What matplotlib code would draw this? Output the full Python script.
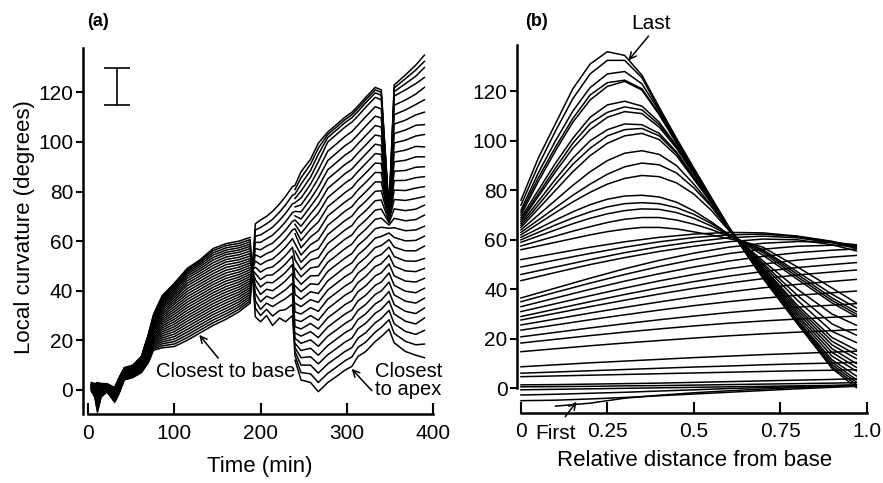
import matplotlib
matplotlib.use("agg")
import matplotlib.pyplot as plt

nan = float("nan")

# (a) local curvature against time, one trace per position (30 positions)
# rows are time points, columns are positions; before the switch column 0 is the base
TIME_GROWTH = [4, 8, 11, 15, 22, 31, 36, 42, 52, 62, 70, 76]
CURV_GROWTH = [
    [-0.5, -0.3, -0.2, 0.0, 0.1, 0.3, 0.4, 0.5, 0.6, 0.7,
     0.8, 0.9, 1.0, 1.1, 1.2, 1.3, 1.4, 1.5, 1.6, 1.7,
     1.8, 1.9, 2.0, 2.1, 2.2, 2.3, 2.4, 2.6, 2.8, 3.0],
    [-3.0, -2.7, -2.4, -2.1, -1.8, -1.5, -1.2, -1.0, -0.8, -0.6,
     -0.4, -0.2, 0.0, 0.2, 0.4, 0.6, 0.8, 1.0, 1.1, 1.2,
     1.3, 1.4, 1.5, 1.6, 1.7, 1.8, 1.9, 2.0, 2.2, 2.5],
    [-9.0, -8.5, -8.0, -7.5, -7.0, -6.5, -6.0, -5.5, -5.0, -4.5,
     -4.0, -3.5, -3.0, -2.5, -2.0, -1.5, -1.0, -0.5, 0.0, 0.4,
     0.8, 1.2, 1.5, 1.8, 2.0, 2.2, 2.4, 2.6, 2.8, 3.0],
    [-3.0, -2.7, -2.4, -2.1, -1.8, -1.5, -1.2, -0.9, -0.6, -0.3,
     0.0, 0.2, 0.4, 0.6, 0.8, 1.0, 1.1, 1.2, 1.3, 1.4,
     1.5, 1.6, 1.7, 1.8, 1.9, 2.0, 2.1, 2.2, 2.4, 2.6],
    [-0.8, -0.6, -0.4, -0.2, 0.0, 0.1, 0.2, 0.3, 0.4, 0.5,
     0.6, 0.7, 0.8, 0.9, 1.0, 1.1, 1.2, 1.3, 1.4, 1.5,
     1.6, 1.7, 1.8, 1.9, 2.0, 2.1, 2.2, 2.3, 2.4, 2.5],
    [-5.0, -4.7, -4.4, -4.1, -3.8, -3.5, -3.2, -2.9, -2.6, -2.3,
     -2.0, -1.8, -1.6, -1.4, -1.2, -1.0, -0.8, -0.6, -0.4, -0.2,
     0.0, 0.1, 0.2, 0.3, 0.4, 0.5, 0.6, 0.7, 0.8, 1.0],
    [-1.5, -1.2, -0.9, -0.6, -0.3, 0.0, 0.2, 0.4, 0.6, 0.8,
     1.0, 1.2, 1.4, 1.6, 1.8, 2.0, 2.2, 2.4, 2.6, 2.8,
     3.0, 3.2, 3.4, 3.6, 3.8, 4.0, 4.2, 4.4, 4.7, 5.0],
    [4.0, 4.2, 4.4, 4.6, 4.8, 5.0, 5.2, 5.4, 5.6, 5.8,
     6.0, 6.2, 6.4, 6.6, 6.8, 7.0, 7.1, 7.2, 7.3, 7.4,
     7.5, 7.6, 7.7, 7.8, 7.9, 8.0, 8.2, 8.4, 8.7, 9.0],
    [5.0, 5.2, 5.4, 5.6, 5.8, 6.0, 6.2, 6.4, 6.6, 6.8,
     7.0, 7.2, 7.4, 7.6, 7.8, 8.0, 8.2, 8.4, 8.6, 8.8,
     9.0, 9.1, 9.2, 9.3, 9.4, 9.5, 9.6, 9.7, 9.8, 10.0],
    [7.0, 7.3, 7.6, 7.9, 8.2, 8.5, 8.8, 9.1, 9.4, 9.7,
     10.0, 10.3, 10.6, 10.9, 11.2, 11.5, 11.7, 11.9, 12.1, 12.3,
     12.5, 12.6, 12.7, 12.8, 12.9, 13.0, 13.1, 13.2, 13.4, 13.6],
    [11.0, 11.5, 12.0, 12.5, 13.0, 13.5, 14.0, 14.5, 15.0, 15.5,
     16.0, 16.5, 17.0, 17.5, 18.0, 18.4, 18.8, 19.2, 19.6, 20.0,
     20.3, 20.6, 20.9, 21.2, 21.4, 21.6, 21.8, 22.0, 22.2, 22.5],
    [16.0, 16.6, 17.2, 17.8, 18.4, 19.0, 19.6, 20.2, 20.8, 21.4,
     22.0, 22.6, 23.2, 23.8, 24.4, 25.0, 25.5, 26.0, 26.5, 27.0,
     27.4, 27.8, 28.2, 28.5, 28.8, 29.1, 29.4, 29.7, 30.0, 30.5],
]

TIME_FAN = [86, 100, 115, 130, 145, 160, 175, 188]
CURV_FAN = [
    [17.0, 17.8, 18.6, 19.4, 20.2, 21.0, 21.8, 22.6, 23.4, 24.2,
     25.0, 25.8, 26.6, 27.4, 28.2, 29.0, 29.8, 30.6, 31.4, 32.2,
     33.0, 33.7, 34.4, 35.0, 35.6, 36.1, 36.6, 37.1, 37.6, 38.0],
    [17.5, 18.5, 19.5, 20.5, 21.5, 22.5, 23.5, 24.5, 25.5, 26.5,
     27.5, 28.5, 29.5, 30.5, 31.5, 32.5, 33.5, 34.5, 35.4, 36.3,
     37.2, 38.0, 38.8, 39.6, 40.3, 41.0, 41.6, 42.1, 42.6, 43.0],
    [20.0, 21.1, 22.2, 23.3, 24.4, 25.5, 26.6, 27.7, 28.8, 29.9,
     31.0, 32.1, 33.2, 34.3, 35.4, 36.5, 37.6, 38.7, 39.8, 40.9,
     42.0, 43.0, 44.0, 45.0, 45.9, 46.7, 47.4, 48.0, 48.5, 49.0],
    [23.0, 24.1, 25.2, 26.3, 27.4, 28.5, 29.6, 30.7, 31.8, 32.9,
     34.0, 35.1, 36.2, 37.3, 38.4, 39.5, 40.6, 41.7, 42.8, 43.9,
     45.0, 46.0, 47.0, 48.0, 48.9, 49.8, 50.6, 51.3, 52.0, 52.5],
    [26.0, 27.1, 28.2, 29.3, 30.4, 31.5, 32.6, 33.7, 34.8, 35.9,
     37.0, 38.1, 39.2, 40.3, 41.4, 42.5, 43.6, 44.7, 45.8, 46.9,
     48.0, 49.1, 50.2, 51.3, 52.4, 53.4, 54.4, 55.3, 56.2, 57.0],
    [28.5, 29.6, 30.7, 31.8, 32.9, 34.0, 35.1, 36.2, 37.3, 38.4,
     39.5, 40.6, 41.7, 42.8, 43.9, 45.0, 46.1, 47.2, 48.3, 49.4,
     50.5, 51.6, 52.6, 53.6, 54.6, 55.5, 56.4, 57.3, 58.2, 59.0],
    [31.5, 32.5, 33.5, 34.5, 35.5, 36.5, 37.5, 38.5, 39.5, 40.5,
     41.5, 42.5, 43.5, 44.5, 45.5, 46.5, 47.5, 48.5, 49.5, 50.5,
     51.5, 52.5, 53.5, 54.5, 55.5, 56.4, 57.3, 58.2, 59.1, 60.0],
    [35.0, 35.9, 36.8, 37.7, 38.6, 39.5, 40.4, 41.3, 42.2, 43.1,
     44.0, 44.9, 45.8, 46.7, 47.6, 48.5, 49.4, 50.3, 51.2, 52.1,
     53.0, 54.0, 55.0, 56.0, 57.0, 57.9, 58.8, 59.7, 60.6, 61.5],
]

# after the switch the order is reversed and only every other trace is measured
TIME_SWITCH = [194, 200, 207, 214, 222, 229, 237]
CURV_SWITCH = [
    [67.0, nan, 64.5, nan, 62.0, nan, 59.5, nan, 57.0, nan,
     54.5, nan, 52.0, nan, 49.5, nan, 47.0, nan, 44.5, nan,
     42.0, nan, 39.0, nan, 36.0, nan, 33.0, nan, 29.5, nan],
    [68.5, nan, 65.5, nan, 62.5, nan, 59.5, nan, 56.5, nan,
     53.5, nan, 50.5, nan, 47.5, nan, 44.5, nan, 41.5, nan,
     38.5, nan, 35.5, nan, 32.5, nan, 30.0, nan, 27.5, nan],
    [70.0, nan, 67.0, nan, 64.0, nan, 61.0, nan, 58.0, nan,
     55.0, nan, 52.0, nan, 49.0, nan, 46.2, nan, 43.4, nan,
     40.6, nan, 37.8, nan, 35.0, nan, 32.5, nan, 30.0, nan],
    [72.0, nan, 68.8, nan, 65.6, nan, 62.4, nan, 59.2, nan,
     56.0, nan, 52.8, nan, 49.6, nan, 46.4, nan, 43.2, nan,
     40.0, nan, 36.8, nan, 33.6, nan, 29.8, nan, 26.0, nan],
    [75.0, nan, 71.7, nan, 68.4, nan, 65.1, nan, 61.8, nan,
     58.5, nan, 55.2, nan, 51.9, nan, 48.6, nan, 45.3, nan,
     42.0, nan, 38.7, nan, 35.4, nan, 32.0, nan, 29.0, nan],
    [78.0, nan, 74.6, nan, 71.2, nan, 67.8, nan, 64.4, nan,
     61.0, nan, 57.6, nan, 54.2, nan, 50.8, nan, 47.4, nan,
     44.0, nan, 40.4, nan, 36.8, nan, 32.4, nan, 27.5, nan],
    [82.0, nan, 78.5, nan, 75.0, nan, 71.5, nan, 68.0, nan,
     64.5, nan, 61.0, nan, 57.5, nan, 54.0, nan, 50.5, nan,
     47.0, nan, 43.0, nan, 39.0, nan, 34.5, nan, 30.0, nan],
]

TIME_LATE = [240, 247, 258, 267, 278, 288, 298, 306, 313, 322,
             333, 340, 349, 355, 368, 380, 390]
CURV_LATE = [
    [82.5, 80.8, 79.0, 77.2, 75.5, 73.8, 72.0, 70.2, 68.5, 66.8,
     65.0, 63.0, 59.0, 56.0, 52.5, 49.0, 45.5, 42.0, 38.5, 35.0,
     31.5, 28.3, 25.5, 23.0, 20.8, 18.8, 17.0, 15.4, 13.8, 12.0],
    [88.0, 85.6, 83.0, 80.2, 77.4, 74.6, 71.8, 68.9, 66.0, 63.1,
     60.2, 57.3, 54.4, 51.5, 48.6, 45.6, 42.6, 39.6, 36.6, 33.6,
     30.6, 27.6, 24.6, 21.7, 18.8, 15.9, 13.0, 10.0, 7.0, 4.0],
    [93.0, 91.0, 88.5, 85.8, 83.0, 80.0, 77.0, 74.0, 71.0, 67.9,
     64.8, 61.7, 58.6, 55.5, 52.4, 49.2, 46.0, 42.8, 39.6, 36.4,
     33.2, 30.0, 26.8, 23.5, 20.2, 16.8, 13.4, 10.0, 6.5, 3.0],
    [99.5, 97.5, 95.0, 92.0, 88.7, 85.3, 81.8, 78.3, 74.8, 71.3,
     67.7, 64.1, 60.5, 56.9, 53.3, 49.7, 46.1, 42.5, 38.9, 35.3,
     31.7, 28.1, 24.6, 21.1, 17.6, 14.0, 10.5, 6.8, 3.0, -0.7],
    [104.0, 103.0, 101.8, 100.0, 96.3, 92.5, 88.8, 85.1, 81.3, 77.6,
     73.9, 70.2, 66.4, 62.7, 59.0, 55.2, 51.5, 47.8, 44.0, 40.3,
     36.6, 32.8, 29.1, 25.4, 21.7, 17.9, 14.2, 10.5, 6.7, 3.0],
    [107.0, 106.0, 104.8, 103.0, 99.2, 95.5, 91.7, 88.0, 84.2, 80.5,
     76.7, 73.0, 69.2, 65.5, 61.7, 58.0, 54.2, 50.5, 46.7, 43.0,
     39.2, 35.5, 31.7, 28.0, 24.2, 20.5, 16.7, 13.0, 9.2, 5.4],
    [110.0, 109.0, 107.8, 106.0, 102.2, 98.5, 94.7, 90.9, 87.2, 83.4,
     79.6, 75.8, 72.1, 68.3, 64.5, 60.8, 57.0, 53.2, 49.5, 45.7,
     41.9, 38.2, 34.4, 30.6, 26.8, 23.1, 19.3, 15.5, 11.8, 8.0],
    [112.0, 111.0, 109.8, 108.0, 104.2, 100.4, 96.6, 92.8, 89.1, 85.3,
     81.5, 77.7, 73.9, 70.1, 66.3, 62.5, 58.8, 55.0, 51.2, 47.4,
     43.6, 39.8, 36.0, 32.2, 28.5, 24.7, 20.9, 17.1, 13.3, 9.5],
    [114.5, 113.5, 112.3, 110.5, 106.8, 103.0, 99.3, 95.6, 91.8, 88.1,
     84.4, 80.7, 76.9, 73.2, 69.5, 65.7, 62.0, 58.3, 54.5, 50.8,
     47.1, 43.3, 39.6, 35.9, 32.1, 28.4, 24.7, 20.9, 17.2, 13.5],
    [118.0, 117.0, 115.8, 114.0, 110.2, 106.4, 102.6, 98.8, 95.1, 91.3,
     87.5, 83.7, 79.9, 76.1, 72.3, 68.5, 64.8, 61.0, 57.2, 53.4,
     49.6, 45.8, 42.0, 38.2, 34.5, 30.7, 26.9, 23.1, 19.3, 15.5],
    [122.0, 121.0, 119.8, 118.0, 114.2, 110.4, 106.6, 102.8, 99.1, 95.3,
     91.5, 87.7, 83.9, 80.1, 76.3, 72.5, 68.8, 65.0, 61.2, 57.4,
     53.6, 49.8, 46.0, 42.2, 38.5, 34.7, 30.9, 27.1, 23.3, 19.5],
    [121.0, 120.0, 118.8, 117.0, 113.3, 109.7, 106.0, 102.3, 98.6, 95.0,
     91.3, 87.6, 83.9, 80.3, 76.6, 72.9, 69.3, 65.6, 61.9, 58.2,
     54.6, 50.9, 47.2, 43.5, 39.9, 36.2, 32.5, 28.8, 25.2, 21.5],
    [72.5, 72.2, 71.9, 71.6, 71.3, 71.0, 70.7, 70.4, 70.1, 69.8,
     69.5, 69.2, 68.9, 68.5, 68.0, 67.4, 66.5, 65.2, 63.3, 60.6,
     57.6, 54.3, 50.8, 47.2, 43.5, 39.7, 35.9, 32.1, 28.3, 24.5],
    [123.0, 121.8, 120.3, 118.5, 114.8, 111.0, 107.2, 103.4, 99.6, 95.8,
     92.0, 88.2, 84.4, 80.6, 76.8, 73.0, 69.2, 65.4, 61.5, 57.6,
     53.8, 49.9, 46.0, 42.2, 38.3, 34.4, 30.6, 26.7, 22.8, 19.0],
    [127.0, 125.5, 123.5, 121.0, 116.9, 112.9, 108.8, 104.8, 100.7, 96.7,
     92.6, 88.5, 84.5, 80.4, 76.4, 72.3, 68.2, 64.2, 60.1, 56.1,
     52.0, 48.0, 43.9, 39.8, 35.8, 31.7, 27.7, 23.6, 19.6, 15.5],
    [131.0, 129.0, 126.5, 123.5, 119.3, 115.1, 110.9, 106.7, 102.4, 98.2,
     94.0, 89.8, 85.6, 81.4, 77.2, 72.9, 68.7, 64.5, 60.3, 56.1,
     51.9, 47.7, 43.5, 39.2, 35.0, 30.8, 26.6, 22.4, 18.2, 14.0],
    [135.0, 132.5, 130.0, 126.0, 122.0, 117.0, 112.0, 107.0, 103.0, 98.0,
     94.0, 90.0, 86.0, 82.0, 78.0, 74.5, 70.5, 66.0, 62.0, 58.0,
     53.0, 49.0, 45.0, 41.0, 37.0, 33.0, 29.0, 24.0, 18.5, 13.0],
]

SCALE_BAR_T = 34
SCALE_BAR_LOW = 115
SCALE_BAR_HIGH = 130

# (b) curvature profiles along the organ, one trace per time point
S_RISE = [0, 0.1, 0.2, 0.3, 0.4, 0.5, 0.6, 0.7, 0.8, 0.9, 0.97]
PROFILES_RISE = [
    [nan, -7.2, -6.0, -4.0, -2.8, -1.8, -1.0, -0.3, 0.3, 0.8, 1.1],
    [-5.0, -4.8, -4.3, -3.7, -3.0, -2.3, -1.6, -0.9, -0.2, 0.4, 0.8],
    [-2.7, -2.4, -2.0, -1.6, -1.1, -0.6, -0.1, 0.3, 0.7, 1.0, 1.3],
    [-0.6, -0.4, -0.2, 0.0, 0.2, 0.4, 0.6, 0.8, 1.0, 1.2, 1.4],
    [0.6, 0.7, 0.8, 1.0, 1.1, 1.3, 1.5, 1.7, 1.9, 2.1, 2.3],
    [1.4, 1.5, 1.7, 1.9, 2.1, 2.4, 2.7, 3.0, 3.3, 3.6, 3.9],
    [4.7, 5.0, 5.3, 5.6, 5.9, 6.2, 6.5, 6.8, 7.1, 7.3, 7.5],
    [6.1, 6.6, 7.1, 7.6, 8.1, 8.6, 9.0, 9.5, 9.9, 10.2, 10.5],
    [8.7, 9.5, 10.3, 11.0, 11.7, 12.4, 13.0, 13.6, 14.1, 14.6, 15.0],
    [14.8, 16.0, 17.2, 18.3, 19.3, 20.3, 21.2, 22.0, 22.7, 23.3, 23.7],
    [18.3, 19.8, 21.3, 22.7, 24.0, 25.2, 26.3, 27.2, 28.0, 28.7, 29.2],
    [20.8, 22.6, 24.4, 26.1, 27.7, 29.2, 30.6, 31.8, 32.8, 33.6, 34.2],
    [23.5, 25.6, 27.7, 29.7, 31.6, 33.4, 35.0, 36.4, 37.6, 38.6, 39.3],
    [25.6, 28.0, 30.4, 32.7, 34.9, 37.0, 38.9, 40.6, 42.0, 43.2, 44.0],
    [27.6, 30.3, 33.0, 35.6, 38.1, 40.4, 42.5, 44.3, 45.8, 47.0, 47.8],
    [29.0, 32.0, 35.0, 37.9, 40.6, 43.1, 45.3, 47.2, 48.8, 50.0, 50.8],
    [31.0, 34.2, 37.4, 40.5, 43.4, 46.0, 48.3, 50.2, 51.8, 53.0, 53.7],
    [33.0, 36.5, 40.0, 43.3, 46.3, 49.0, 51.4, 53.3, 54.8, 55.8, 56.3],
    [35.0, 38.8, 42.5, 46.0, 49.2, 52.0, 54.4, 56.2, 57.4, 57.8, 57.5],
    [36.5, 40.5, 44.5, 48.3, 51.7, 54.6, 57.0, 58.6, 59.3, 59.0, 58.0],
    [43.5, 46.8, 50.0, 52.8, 55.3, 57.4, 59.2, 60.3, 60.0, 58.0, 55.5],
    [46.0, 49.0, 52.0, 54.8, 57.2, 59.2, 60.8, 61.5, 60.8, 58.8, 56.5],
    [49.0, 51.8, 54.5, 57.0, 59.2, 60.9, 62.0, 62.3, 61.3, 59.2, 57.0],
    [52.0, 54.5, 57.0, 59.2, 61.0, 62.3, 63.0, 62.8, 61.5, 59.4, 57.2],
]

S_PEAK = [0, 0.05, 0.1, 0.15, 0.2, 0.25, 0.3, 0.35, 0.4, 0.45,
          0.5, 0.55, 0.6, 0.65, 0.7, 0.8, 0.9, 0.97]
PROFILES_PEAK = [
    [56.0, 57.5, 59.0, 60.5, 62.0, 63.3, 64.3, 65.0, 65.0, 64.4, 63.2, 62.0, 60.5, 59.0, 57.0, 49.0, 40.5, 34.5],
    [57.5, 59.5, 61.5, 63.5, 65.3, 67.0, 68.3, 69.0, 69.0, 68.0, 66.3, 64.2, 61.5, 59.0, 56.0, 47.0, 38.0, 32.5],
    [59.0, 61.5, 64.0, 66.5, 68.7, 70.5, 71.8, 72.5, 72.3, 71.0, 68.7, 65.6, 62.0, 58.8, 55.5, 46.0, 36.5, 31.0],
    [60.0, 63.0, 66.0, 68.8, 71.3, 73.3, 74.6, 75.0, 74.6, 73.0, 70.3, 66.6, 62.3, 58.5, 54.8, 45.0, 35.5, 30.0],
    [61.0, 64.5, 68.0, 71.3, 74.2, 76.4, 77.7, 78.0, 77.3, 75.2, 71.7, 67.3, 62.3, 58.0, 53.8, 44.0, 34.5, 29.0],
    [62.0, 66.5, 71.0, 75.3, 79.2, 82.5, 84.8, 86.0, 85.5, 83.0, 78.5, 72.0, 64.0, 57.5, 51.5, 40.0, 30.0, 25.5],
    [63.0, 68.0, 73.0, 78.0, 82.5, 86.5, 89.5, 91.0, 90.3, 87.0, 81.0, 73.5, 64.5, 57.0, 50.5, 37.5, 26.0, 21.5],
    [64.0, 70.0, 76.0, 82.0, 87.5, 92.0, 95.0, 96.0, 94.5, 90.0, 82.5, 74.0, 64.8, 56.7, 49.8, 35.5, 23.0, 18.5],
    [65.0, 72.5, 80.0, 87.5, 94.0, 99.0, 102.0, 103.0, 100.5, 94.0, 84.5, 75.0, 65.0, 56.3, 49.0, 33.5, 20.5, 15.5],
    [65.8, 74.0, 82.5, 90.5, 97.0, 102.0, 104.5, 105.0, 102.0, 95.0, 85.0, 75.3, 64.8, 56.0, 48.5, 32.5, 19.0, 13.5],
    [66.6, 75.5, 84.5, 93.0, 100.0, 104.5, 106.8, 106.5, 103.0, 95.5, 85.5, 75.5, 64.5, 56.2, 47.8, 31.5, 17.5, 12.0],
    [67.4, 77.5, 87.5, 97.0, 104.5, 109.5, 111.8, 111.0, 105.5, 97.0, 86.5, 76.0, 64.6, 56.0, 47.3, 30.5, 16.0, 10.0],
    [68.2, 78.5, 89.0, 99.0, 107.0, 111.5, 113.7, 112.5, 106.5, 97.5, 87.0, 76.0, 64.7, 55.8, 46.8, 29.5, 14.5, 8.5],
    [69.0, 80.0, 91.0, 101.0, 109.5, 114.5, 116.0, 114.0, 107.5, 98.0, 87.3, 76.3, 64.8, 55.6, 46.4, 28.5, 13.0, 7.0],
    [70.0, 83.5, 96.0, 107.5, 116.5, 122.0, 124.0, 120.5, 110.5, 99.0, 87.5, 76.5, 65.0, 55.4, 46.0, 27.5, 11.5, 5.0],
    [71.0, 85.0, 97.5, 109.0, 118.5, 123.5, 124.5, 121.0, 111.0, 99.5, 87.8, 76.7, 65.1, 55.2, 45.6, 27.0, 10.5, 3.5],
    [72.0, 87.0, 100.0, 112.0, 121.5, 127.0, 128.0, 123.0, 112.0, 100.0, 88.2, 76.8, 65.2, 55.0, 45.2, 26.5, 9.5, 2.5],
    [74.0, 90.0, 104.0, 117.0, 127.0, 132.5, 132.5, 125.5, 112.5, 100.5, 88.6, 77.0, 65.4, 54.8, 44.8, 26.2, 8.6, 1.5],
    [76.0, 93.0, 107.0, 121.0, 131.0, 136.0, 134.5, 126.5, 113.5, 101.0, 89.0, 77.2, 65.6, 54.6, 44.4, 26.0, 8.0, 0.3],
]

plt.rcParams["font.family"] = ["Liberation Sans", "DejaVu Sans"]

fig = plt.figure(figsize=(8.83, 4.83), dpi=100)
ax_a = fig.add_axes([0.0940, 0.1429, 0.3964, 0.7578])
ax_b = fig.add_axes([0.5858, 0.1455, 0.3957, 0.7613])

# panel (a)
times = TIME_GROWTH + TIME_FAN + TIME_SWITCH + TIME_LATE
rows = CURV_GROWTH + CURV_FAN + CURV_SWITCH + CURV_LATE
for j in range(len(rows[0])):
    ax_a.plot(times, [r[j] for r in rows], color="black", lw=1.1)

mid = (SCALE_BAR_LOW + SCALE_BAR_HIGH) / 2
ax_a.errorbar([SCALE_BAR_T], [mid], yerr=[SCALE_BAR_HIGH - mid], fmt="none",
              ecolor="black", elinewidth=1.2, capsize=9.5, capthick=1.2)

ax_a.set_xlim(-5.8, 400)
ax_a.set_ylim(-9.7, 137.9)
ax_a.set_xticks([0, 100, 200, 300, 400])
ax_a.set_yticks([0, 20, 40, 60, 80, 100, 120])

arrow = dict(arrowstyle="->", color="black", lw=1.1, shrinkA=0, shrinkB=0,
             mutation_scale=12)
ax_a.annotate("", xy=(129, 22.2), xytext=(151, 12.8), arrowprops=arrow)
ax_a.text(160, 7.3, "Closest to base", ha="center", va="center", fontsize=14.5)
ax_a.annotate("", xy=(305.7, 8.5), xytext=(329, -0.3), arrowprops=arrow,
              annotation_clip=False)
ax_a.text(371.6, 3.7, "Closest\nto apex", ha="center", va="center",
          fontsize=14.5, linespacing=0.95, clip_on=False)

# panel (b)
for prof in PROFILES_RISE:
    ax_b.plot(S_RISE, prof, color="black", lw=1.1)
for prof in PROFILES_PEAK:
    ax_b.plot(S_PEAK, prof, color="black", lw=1.1)

ax_b.set_xlim(-0.0107, 1.0)
ax_b.set_ylim(-9.86, 138.7)
ax_b.set_xticks([0, 0.25, 0.5, 0.75, 1.0])
ax_b.set_xticklabels(["0", "0.25", "0.5", "0.75", "1.0"])
ax_b.set_yticks([0, 20, 40, 60, 80, 100, 120])

ax_b.annotate("", xy=(0.311, 132.5), xytext=(0.369, 142.3), arrowprops=arrow,
              annotation_clip=False)
ax_b.text(0.375, 147.5, "Last", ha="center", va="center", fontsize=15,
          clip_on=False)
ax_b.annotate("", xy=(0.161, -5.4), xytext=(0.128, -11.5), arrowprops=arrow,
              annotation_clip=False)
ax_b.text(0.101, -18.3, "First", ha="center", va="center", fontsize=15,
          clip_on=False)

for ax in (ax_a, ax_b):
    ax.spines["top"].set_visible(False)
    ax.spines["right"].set_visible(False)
    ax.spines["left"].set_linewidth(1.8)
    ax.spines["bottom"].set_linewidth(1.8)
    ax.tick_params(axis="x", direction="in", length=8, width=1.5, pad=7,
                   labelsize=15)
    ax.tick_params(axis="y", direction="out", length=5, width=1.5, pad=2,
                   labelsize=15)
ax_a.spines["bottom"].set_bounds(0, 400)
ax_b.spines["bottom"].set_bounds(0, 1.0)
ax_b.spines["left"].set_bounds(0, 138.7)

fig.text(0.2945, 0.034, "Time (min)", ha="center", va="center", fontsize=16)
fig.text(0.787, 0.0476, "Relative distance from base", ha="center",
         va="center", fontsize=16)
fig.text(0.0283, 0.530, "Local curvature (degrees)", ha="center",
         va="center", rotation=90, fontsize=16)
fig.text(98 / 883, 1 - 21.7 / 483, "(a)", ha="center", va="center",
         fontsize=13, fontweight="bold")
fig.text(536.7 / 883, 1 - 21.7 / 483, "(b)", ha="center", va="center",
         fontsize=13, fontweight="bold")

fig.savefig("out.png", dpi=100)
